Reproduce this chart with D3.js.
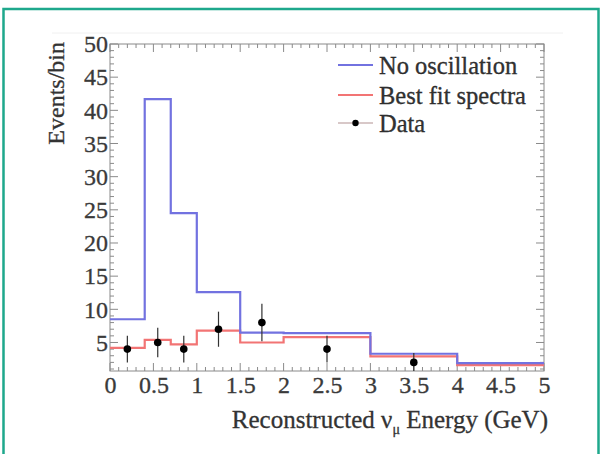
<!DOCTYPE html>
<html>
<head>
<meta charset="utf-8">
<script src="https://cdn.jsdelivr.net/npm/d3@7"></script>
<style>
  html, body { margin: 0; padding: 0; background: #fff; }
  svg { display: block; }
  text { font-family: "Liberation Serif", "DejaVu Serif", serif; fill: #333; }
</style>
</head>
<body>
<svg id="chart" width="602" height="454"></svg>
<script>
// Bin edges in reconstructed energy (GeV)
const binEdges = [0, 0.4, 0.7, 1.0, 1.5, 2.0, 3.0, 4.0, 5.0];
// Expected events per bin without oscillation
const noOscillation = [8.5, 41.7, 24.5, 12.6, 6.5, 6.4, 3.3, 1.9];
// Best-fit oscillated spectrum
const bestFit = [4.2, 5.4, 4.7, 6.8, 5.0, 5.8, 2.9, 1.6];
// Observed events
const dataEnergy = [0.2, 0.55, 0.85, 1.25, 1.75, 2.5, 3.5];
const dataCounts = [4, 5, 4, 7, 8, 4, 2];
// Axis tick labels
const xTickValues = [0, 0.5, 1, 1.5, 2, 2.5, 3, 3.5, 4, 4.5, 5];
const yTickValues = [5, 10, 15, 20, 25, 30, 35, 40, 45, 50];
const legendLabels = ["No oscillation", "Best fit spectra", "Data"];

const svg = d3.select("#chart");
const plotL = 110, plotR = 544, plotT = 44, plotB = 371;

const x = d3.scaleLinear().domain([0, 5]).range([plotL, plotR]);
const y = d3.scaleLinear().domain([0.7, 50]).range([plotB, plotT]);

// Outer teal frame
svg.append("rect")
  .attr("x", 3.5).attr("y", 9).attr("width", 595).attr("height", 470)
  .attr("fill", "none").attr("stroke", "#1ea88c").attr("stroke-width", 2.5);

// faint edge above the plot
svg.append("line")
  .attr("x1", 52).attr("x2", 563).attr("y1", 33).attr("y2", 33)
  .attr("stroke", "#f0f0f0").attr("stroke-width", 1);

const axisColor = "#8a8a8a";

// Frame of the plot
svg.append("rect")
  .attr("x", plotL).attr("y", plotT).attr("width", plotR - plotL).attr("height", plotB - plotT)
  .attr("fill", "none").attr("stroke", axisColor).attr("stroke-width", 1);

// Ticks on all four sides, pointing inward
const xMinor = d3.range(0, 5.0001, 0.1);
const yMinor = d3.range(1, 50.0001, 1);
const ticks = svg.append("g").attr("stroke", axisColor).attr("stroke-width", 1);
xMinor.forEach(v => {
  const major = Math.abs(v * 2 - Math.round(v * 2)) < 1e-6;
  const len = major ? 8 : 4;
  ticks.append("line").attr("x1", x(v)).attr("x2", x(v)).attr("y1", plotB).attr("y2", plotB - len);
  ticks.append("line").attr("x1", x(v)).attr("x2", x(v)).attr("y1", plotT).attr("y2", plotT + len);
});
yMinor.forEach(v => {
  const major = v % 5 === 0;
  const len = major ? 8 : 4;
  ticks.append("line").attr("x1", plotL).attr("x2", plotL + len).attr("y1", y(v)).attr("y2", y(v));
  ticks.append("line").attr("x1", plotR).attr("x2", plotR - len).attr("y1", y(v)).attr("y2", y(v));
});

// Tick labels via d3 axes (lines hidden, labels kept)
function styleTickText(sel) {
  sel.style("font-family", "'Liberation Serif', serif")
    .style("font-size", "24px")
    .style("fill", "#3a3a3a")
    .style("stroke", "#3a3a3a")
    .style("stroke-width", "0.3px");
}
const xAxis = d3.axisBottom(x).tickValues(xTickValues).tickSize(0).tickPadding(0)
  .tickFormat(d => String(d));
const gx = svg.append("g").attr("transform", `translate(0,${plotB})`).call(xAxis);
gx.select(".domain").remove();
gx.selectAll("text").attr("dy", "0.9em").call(styleTickText);

const yAxis = d3.axisLeft(y).tickValues(yTickValues).tickSize(0).tickPadding(2)
  .tickFormat(d => String(d));
const gy = svg.append("g").attr("transform", `translate(${plotL},0)`).call(yAxis);
gy.select(".domain").remove();
gy.selectAll("text").call(styleTickText);

// Axis titles
svg.append("text")
  .attr("transform", `translate(64,${plotT - 2}) rotate(-90)`)
  .attr("text-anchor", "end").attr("font-size", 24)
  .attr("stroke", "#333").attr("stroke-width", 0.3)
  .text("Events/bin");

const xt = svg.append("text")
  .attr("x", plotR + 4).attr("y", 428).attr("text-anchor", "end").attr("font-size", 25)
  .attr("stroke", "#333").attr("stroke-width", 0.3);
xt.append("tspan").text("Reconstructed \u03bd");
xt.append("tspan").attr("font-size", 14).attr("dy", 6).text("\u03bc");
xt.append("tspan").attr("dy", -6).text(" Energy (GeV)");

// Step histograms
function stepPath(values) {
  const pts = [];
  values.forEach((v, i) => {
    pts.push([x(binEdges[i]), y(v)]);
    pts.push([x(binEdges[i + 1]), y(v)]);
  });
  return d3.line()(pts);
}
const blue = "#7272e0", red = "#f27474";
svg.append("path").attr("d", stepPath(bestFit))
  .attr("fill", "none").attr("stroke", red).attr("stroke-width", 2.2);
svg.append("path").attr("d", stepPath(noOscillation))
  .attr("fill", "none").attr("stroke", blue).attr("stroke-width", 2.2);

// Data points with Poisson error bars
const pts = svg.append("g");
dataEnergy.forEach((e, i) => {
  const n = dataCounts[i];
  const err = Math.sqrt(n);
  pts.append("line")
    .attr("x1", x(e)).attr("x2", x(e))
    .attr("y1", y(Math.max(n - err, 0.7))).attr("y2", y(n + err))
    .attr("stroke", "#333").attr("stroke-width", 1.2);
  pts.append("circle").attr("cx", x(e)).attr("cy", y(n)).attr("r", 3.8).attr("fill", "#000");
});

// Legend
const legend = svg.append("g");
const legendY = [65, 95, 123];
const lx1 = 338, lx2 = 373;
legend.append("line").attr("x1", lx1).attr("x2", lx2).attr("y1", legendY[0]).attr("y2", legendY[0])
  .attr("stroke", blue).attr("stroke-width", 2.2);
legend.append("line").attr("x1", lx1).attr("x2", lx2).attr("y1", legendY[1]).attr("y2", legendY[1])
  .attr("stroke", red).attr("stroke-width", 2.2);
legend.append("line").attr("x1", lx1).attr("x2", lx2).attr("y1", legendY[2]).attr("y2", legendY[2])
  .attr("stroke", "#d8c8c8").attr("stroke-width", 2);
legend.append("circle").attr("cx", (lx1 + lx2) / 2).attr("cy", legendY[2]).attr("r", 3.2).attr("fill", "#000");
legendLabels.forEach((t, i) => {
  legend.append("text").attr("x", 379).attr("y", legendY[i]).attr("dy", "0.35em")
    .attr("font-size", 24.5).attr("fill", "#222")
    .attr("stroke", "#222").attr("stroke-width", 0.3).text(t);
});
</script>
</body>
</html>
